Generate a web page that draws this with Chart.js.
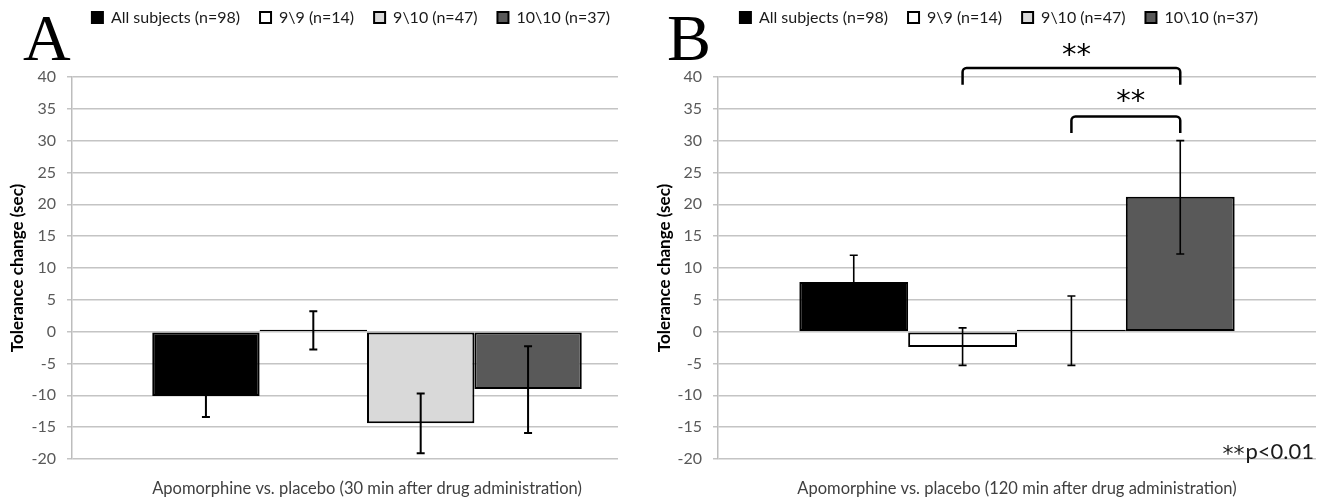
<!DOCTYPE html>
<html lang="en">
<head>
<meta charset="UTF-8">
<title>Tolerance change after apomorphine</title>
<style>
    body {
        margin: 0;
        background: #ffffff;
    }
    .panel {
        position: absolute;
        top: 0;
        height: 501px;
    }
    #panelA { left: 0; width: 662px; }
    #panelB { left: 650px; width: 672px; }
</style>
</head>
<body>
<div class="panel" id="panelA"><canvas id="chartA"></canvas></div>
<div class="panel" id="panelB"><canvas id="chartB"></canvas></div>
<script src="https://cdn.jsdelivr.net/npm/chart.js"></script>
<script>
// groups (legend) and bar fills
const groups = ['All subjects (n=98)', '9\\9 (n=14)', '9\\10 (n=47)', '10\\10 (n=37)'];
const fills = ['#000000', '#ffffff', '#d9d9d9', '#595959'];

// panel A: 30 min
const labelsA = ['Apomorphine vs. placebo (30 min after drug administration)'];
const meanA = [-10.1, 0.1, -14.4, -9.0];
const lowA = [-13.4, -2.8, -19.1, -15.9];
const highA = [-6.8, 3.2, -9.7, -2.3];

// panel B: 120 min
const labelsB = ['Apomorphine vs. placebo (120 min after drug administration)'];
const meanB = [7.8, -2.4, 0.2, 21.2];
const lowB = [3.6, -5.3, -5.3, 12.2];
const highB = [12.0, 0.6, 5.6, 30.0];

// significance brackets on panel B (group index, y values in sec)
const bracketFrom = [1, 2];
const bracketTo = [3, 3];
const bracketTop = [41.4, 33.8];
const bracketFoot = [38.8, 31.2];
const starLevel = [44.2, 36.9];

const yTicks = { min: -20, max: 40, step: 5 };

// legend sits high, plot starts well below it
function legendPlace(shiftX) {
    return {
        id: 'legendPlace',
        beforeLayout(chart) {
            if (chart.legend && !chart.legend._patched) {
                const fit = chart.legend.fit;
                chart.legend.fit = function () {
                    fit.call(this);
                    this.height += 31;
                };
                chart.legend._patched = true;
            }
        },
        afterLayout(chart) {
            const lg = chart.legend;
            lg.left += shiftX; lg.right += shiftX;
            lg.top -= 10.5; lg.bottom -= 10.5;
        }
    };
}

function errorBars(lows, highs, width) {
    return {
        id: 'errorBars',
        afterDatasetsDraw(chart) {
            const ctx = chart.ctx;
            const y = chart.scales.y;
            ctx.save();
            ctx.strokeStyle = '#000';
            ctx.lineWidth = width;
            chart.data.datasets.forEach((ds, i) => {
                const bar = chart.getDatasetMeta(i).data[0];
                const y1 = y.getPixelForValue(lows[i]);
                const y2 = y.getPixelForValue(highs[i]);
                ctx.beginPath();
                ctx.moveTo(bar.x, y1); ctx.lineTo(bar.x, y2);
                ctx.moveTo(bar.x - 4, y1); ctx.lineTo(bar.x + 4, y1);
                ctx.moveTo(bar.x - 4, y2); ctx.lineTo(bar.x + 4, y2);
                ctx.stroke();
            });
            ctx.restore();
        }
    };
}

function panelLetter(letter, x) {
    return {
        id: 'panelLetter',
        afterDraw(chart) {
            const ctx = chart.ctx;
            ctx.save();
            ctx.fillStyle = '#000';
            ctx.font = '66px "Liberation Serif"';
            ctx.textBaseline = 'alphabetic';
            ctx.fillText(letter, x, 60);
            ctx.restore();
        }
    };
}

// panel A gridlines stop short of the canvas edge
const trimGrid = {
    id: 'trimGrid',
    beforeDatasetsDraw(chart) {
        const a = chart.chartArea;
        chart.ctx.save();
        chart.ctx.fillStyle = '#fff';
        chart.ctx.fillRect(a.right - 44, a.top - 3, 50, a.bottom - a.top + 6);
        chart.ctx.restore();
    }
};

const brackets = {
    id: 'brackets',
    afterDraw(chart) {
        const ctx = chart.ctx;
        const y = chart.scales.y;
        ctx.save();
        ctx.strokeStyle = '#000';
        ctx.lineWidth = 2.5;
        ctx.fillStyle = '#000';
        ctx.font = '29px "DejaVu Sans"';
        ctx.textAlign = 'center';
        ctx.textBaseline = 'middle';
        bracketFrom.forEach((f, k) => {
            const x1 = chart.getDatasetMeta(f).data[0].x;
            const x2 = chart.getDatasetMeta(bracketTo[k]).data[0].x;
            const top = y.getPixelForValue(bracketTop[k]);
            const foot = y.getPixelForValue(bracketFoot[k]);
            ctx.beginPath();
            ctx.moveTo(x1, foot);
            ctx.arcTo(x1, top, x2, top, 4);
            ctx.arcTo(x2, top, x2, foot, 4);
            ctx.lineTo(x2, foot);
            ctx.stroke();
            ctx.fillText('**', (x1 + x2) / 2 + 5, y.getPixelForValue(starLevel[k]) + 6);
        });
        // p-value note
        const a = chart.chartArea;
        const base = y.getPixelForValue(yTicks.min);
        ctx.textAlign = 'right';
        ctx.textBaseline = 'alphabetic';
        ctx.fillStyle = '#1a1a1a';
        ctx.font = '22px Lato';
        ctx.fillText('p<0.01', a.right - 2, base);
        const w = ctx.measureText('p<0.01').width;
        ctx.font = '22px "DejaVu Sans"';
        ctx.fillText('**', a.right - 3 - w, base + 2);
        ctx.restore();
    }
};

function buildChart(id, cfg) {
    return new Chart(document.getElementById(id), {
        type: 'bar',
        data: {
            labels: cfg.labels,
            datasets: groups.map((g, i) => ({
                label: g,
                data: [cfg.means[i]],
                backgroundColor: fills[i],
                borderColor: '#000',
                borderWidth: 2,
                borderSkipped: false,
                minBarLength: 2,
                barPercentage: 1,
                categoryPercentage: 0.728
            }))
        },
        options: {
            responsive: true,
            maintainAspectRatio: false,
            animation: false,
            layout: { padding: { left: 0, right: cfg.padRight, top: 0, bottom: 0 } },
            plugins: {
                legend: {
                    labels: {
                        boxWidth: 11,
                        boxHeight: 11,
                        padding: 20,
                        color: '#1a1a1a',
                        font: { family: 'Lato', size: 16 }
                    }
                },
                tooltip: { enabled: false }
            },
            scales: {
                x: {
                    grid: { display: false, drawTicks: false, tickLength: 0 },
                    border: { display: false },
                    ticks: { padding: 20, color: '#404040', font: { family: 'Lato', size: 16.5 } },
                    afterFit(scale) { scale.height = 42; }
                },
                y: {
                    min: yTicks.min,
                    max: yTicks.max,
                    ticks: { stepSize: yTicks.step, padding: 11, color: '#595959', font: { family: 'Lato', size: 16 } },
                    grid: { color: '#c4c4c4', lineWidth: 1.5, tickLength: 5 },
                    border: { color: '#bdbdbd', width: 1.5 },
                    title: {
                        display: true,
                        text: 'Tolerance change (sec)',
                        color: '#000',
                        font: { family: 'Lato', size: 17, weight: 'bold' },
                        padding: { top: cfg.titlePad, bottom: 0 }
                    },
                    afterFit(scale) { scale.width = cfg.axisWidth; }
                }
            }
        },
        plugins: cfg.plugins
    });
}

buildChart('chartA', {
    labels: labelsA, means: meanA,
    padRight: 0, axisWidth: 72, titlePad: 7,
    plugins: [legendPlace(20), trimGrid, errorBars(lowA, highA, 2), panelLetter('A', 23)]
});

buildChart('chartB', {
    labels: labelsB, means: meanB,
    padRight: 6, axisWidth: 68, titlePad: 4,
    plugins: [legendPlace(16), errorBars(lowB, highB, 1.6), brackets, panelLetter('B', 17)]
});
</script>
</body>
</html>
